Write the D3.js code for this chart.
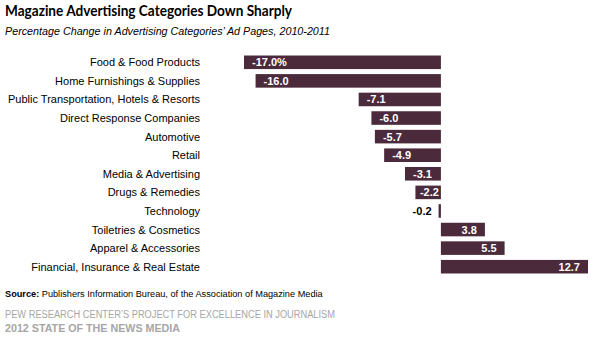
<!DOCTYPE html>
<html lang="en">
<head>
  <meta charset="UTF-8">
  <title>Magazine Advertising Categories Down Sharply</title>
  <script src="https://d3js.org/d3.v7.min.js"></script>
  <style>
    body { margin: 0; padding: 0; background: #fff; }
    svg { display: block; font-family: "Liberation Sans", Arial, sans-serif; }
    .cat { font-size: 11px; fill: #000; }
    .val { font-size: 11px; font-weight: bold; }
  </style>
</head>
<body>
  <svg id="chart"></svg>

  <script>
    const categories = [
      'Food & Food Products',
      'Home Furnishings & Supplies',
      'Public Transportation, Hotels & Resorts',
      'Direct Response Companies',
      'Automotive',
      'Retail',
      'Media & Advertising',
      'Drugs & Remedies',
      'Technology',
      'Toiletries & Cosmetics',
      'Apparel & Accessories',
      'Financial, Insurance & Real Estate'
    ];
    const changes = [-17.0, -16.0, -7.1, -6.0, -5.7, -4.9, -3.1, -2.2, -0.2, 3.8, 5.5, 12.7];
    const valueLabels = ['-17.0%', '-16.0', '-7.1', '-6.0', '-5.7', '-4.9', '-3.1', '-2.2', '-0.2', '3.8', '5.5', '12.7'];

    const width = 604, height = 348;
    const barColor = '#4b2a3b';

    const svg = d3.select('#chart').attr('width', width).attr('height', height);

    const x = d3.scaleLinear().domain([-17, 12.7]).range([244, 588]);
    const y = d3.scaleBand().domain(categories).range([53, 276])
      .paddingInner(0.27).paddingOuter(0.135);

    // title block
    svg.append('text')
      .attr('x', 5).attr('y', 16)
      .attr('font-family', 'Lato, "Open Sans", sans-serif')
      .attr('font-weight', 'bold').attr('font-size', 15)
      .attr('textLength', 287).attr('lengthAdjust', 'spacingAndGlyphs')
      .text('Magazine Advertising Categories Down Sharply');

    svg.append('text')
      .attr('x', 5).attr('y', 35)
      .attr('font-style', 'italic').attr('font-size', 11)
      .attr('textLength', 325).attr('lengthAdjust', 'spacingAndGlyphs')
      .text('Percentage Change in Advertising Categories\u2019 Ad Pages, 2010-2011');

    // category labels
    svg.selectAll('.cat')
      .data(categories)
      .enter().append('text')
      .attr('class', 'cat')
      .attr('x', 200)
      .attr('y', d => y(d) + y.bandwidth() / 2 + 4)
      .attr('text-anchor', 'end')
      .text(d => d);

    // bars
    svg.selectAll('.bar')
      .data(changes)
      .enter().append('rect')
      .attr('class', 'bar')
      .attr('x', d => x(Math.min(0, d)))
      .attr('y', (d, i) => y(categories[i]))
      .attr('width', d => Math.abs(x(d) - x(0)))
      .attr('height', y.bandwidth())
      .attr('fill', barColor);

    // value labels
    const labels = svg.selectAll('.val')
      .data(changes)
      .enter().append('text')
      .attr('class', 'val')
      .attr('y', (d, i) => y(categories[i]) + y.bandwidth() / 2 + 4)
      .text((d, i) => valueLabels[i]);

    labels.each(function (d) {
      const t = d3.select(this);
      const w = this.getComputedTextLength();
      const barW = Math.abs(x(d) - x(0));
      if (d >= 0) {
        t.attr('x', x(d) - 8).attr('text-anchor', 'end').attr('fill', '#fff');
      } else if (barW < w) {
        t.attr('x', x(d) - 7).attr('text-anchor', 'end').attr('fill', '#000');
      } else {
        t.attr('x', Math.min(x(d) + 8, x(0) - w - 2)).attr('fill', '#fff');
      }
    });

    // source and credits
    const src = svg.append('text').attr('x', 5).attr('y', 297).attr('font-size', 9.2);
    src.append('tspan').attr('font-weight', 'bold').text('Source:');
    src.append('tspan').text(' Publishers Information Bureau, of the Association of Magazine Media');

    svg.append('text')
      .attr('x', 5).attr('y', 318)
      .attr('font-size', 10).attr('fill', '#a6a6a6')
      .attr('textLength', 330).attr('lengthAdjust', 'spacingAndGlyphs')
      .text('PEW RESEARCH CENTER\u2019S PROJECT FOR EXCELLENCE IN JOURNALISM');

    svg.append('text')
      .attr('x', 5).attr('y', 332)
      .attr('font-size', 10).attr('font-weight', 'bold').attr('fill', '#a6a6a6')
      .attr('textLength', 175).attr('lengthAdjust', 'spacingAndGlyphs')
      .text('2012 STATE OF THE NEWS MEDIA');
  </script>
</body>
</html>
